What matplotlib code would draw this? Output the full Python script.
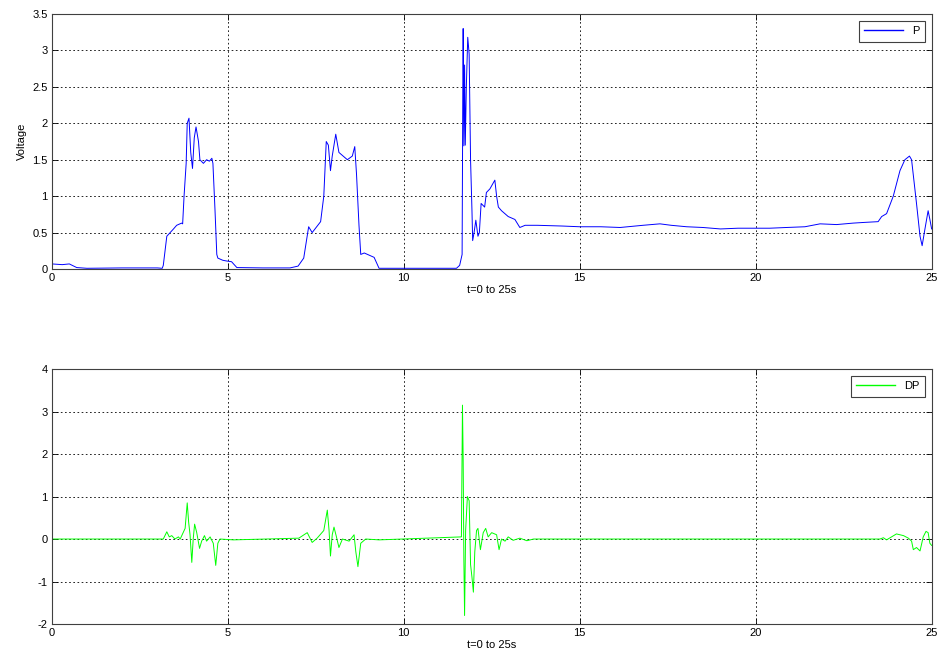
import matplotlib
matplotlib.use("Agg")
import matplotlib.pyplot as plt
import numpy as np

plt.rcParams['font.family'] = ['Liberation Sans', 'DejaVu Sans']
plt.rcParams['font.size'] = 8
plt.rcParams['axes.unicode_minus'] = False

# P signal (voltage)
t_p = [0, 0.3, 0.5, 0.71, 1.0, 2.0, 3.0, 3.14, 3.17, 3.27, 3.46, 3.55, 3.69, 3.72,
       3.76, 3.82, 3.85, 3.9, 3.95, 4.0, 4.05, 4.1, 4.17, 4.21, 4.31, 4.4, 4.48,
       4.55, 4.58, 4.64, 4.69, 4.72, 4.86, 4.97, 5.11, 5.26, 6.0, 6.77, 7.0, 7.16,
       7.3, 7.4, 7.64, 7.73, 7.8, 7.86, 7.92, 7.97, 8.07, 8.16, 8.4, 8.54, 8.61,
       8.66, 8.73, 8.78, 8.88, 9.16, 9.3, 10.0, 11.0, 11.5, 11.59, 11.66, 11.68,
       11.69, 11.71, 11.73, 11.75, 11.78, 11.82, 11.86, 11.9, 11.94, 11.96,
       12.0, 12.05, 12.11, 12.15, 12.2, 12.3, 12.35, 12.45, 12.59, 12.64, 12.69,
       12.78, 12.97, 13.16, 13.3, 13.45, 13.55, 13.8, 14.5, 15.0, 15.6, 16.15,
       16.8, 17.28, 17.6, 18.04, 18.5, 19.0, 19.5, 19.93, 20.4, 20.88, 21.4,
       21.83, 22.3, 22.77, 23.1, 23.48, 23.58, 23.72, 23.91, 24.1, 24.24,
       24.37, 24.43, 24.57, 24.67, 24.73, 24.81, 24.9, 24.95, 25.0]
p_val = [0.07, 0.06, 0.07, 0.02, 0.01, 0.015, 0.015, 0.01, 0.05, 0.45, 0.55, 0.6, 0.63, 0.62,
         1.0, 1.45, 2.0, 2.07, 1.6, 1.38, 1.8, 1.95, 1.75, 1.5, 1.45, 1.5, 1.48,
         1.52, 1.45, 0.8, 0.2, 0.15, 0.12, 0.11, 0.1, 0.02, 0.015, 0.015, 0.04, 0.15,
         0.58, 0.5, 0.65, 1.0, 1.75, 1.7, 1.35, 1.55, 1.85, 1.6, 1.5, 1.55, 1.68,
         1.3, 0.6, 0.2, 0.22, 0.16, 0.01, 0.01, 0.01, 0.01, 0.05, 0.2, 2.5,
         3.3, 1.69, 2.8, 1.7, 2.5, 3.18, 2.95, 1.5, 0.8, 0.39,
         0.5, 0.67, 0.45, 0.5, 0.9, 0.85, 1.05, 1.1, 1.22, 1.0, 0.85,
         0.8, 0.72, 0.68, 0.57, 0.6, 0.6, 0.6, 0.59, 0.58, 0.58, 0.57,
         0.6, 0.62, 0.6, 0.58, 0.57, 0.55, 0.56, 0.56, 0.56, 0.57, 0.58,
         0.62, 0.61, 0.63, 0.64, 0.65, 0.72, 0.76, 1.0, 1.35, 1.5,
         1.55, 1.5, 0.9, 0.45, 0.32, 0.55, 0.8, 0.68, 0.55]

# DP signal (derivative of P)
t_dp = [0, 3.17, 3.27, 3.34, 3.41, 3.5, 3.6, 3.65, 3.79, 3.85, 3.89, 3.93, 3.98,
        4.02, 4.06, 4.12, 4.2, 4.26, 4.34, 4.4, 4.5, 4.59, 4.66, 4.72, 4.78, 5.16,
        7.02, 7.26, 7.4, 7.54, 7.73, 7.83, 7.88, 7.92, 7.97, 8.02, 8.09, 8.16,
        8.26, 8.45, 8.59, 8.64, 8.7, 8.78, 8.92, 9.3, 11.64, 11.67, 11.69, 11.71,
        11.73, 11.76, 11.81, 11.86, 11.9, 11.94, 11.98, 12.02, 12.07, 12.11, 12.18,
        12.26, 12.33, 12.4, 12.5, 12.64, 12.71, 12.78, 12.88, 12.97, 13.11, 13.3,
        13.5, 13.69, 23.53, 23.63, 23.72, 23.86, 24.0, 24.2, 24.34, 24.43, 24.48,
        24.57, 24.67, 24.72, 24.76, 24.84, 24.9, 24.95, 25.0]
dp_val = [0, 0.0, 0.17, 0.05, 0.08, 0.0, 0.05, 0.0, 0.25, 0.85, 0.4, 0.1, -0.55,
          0.0, 0.35, 0.15, -0.22, -0.05, 0.08, -0.05, 0.05, -0.1, -0.62, -0.1, 0.0, -0.02,
          0.02, 0.15, -0.08, 0.02, 0.2, 0.68, 0.2, -0.4, 0.1, 0.28, 0.05, -0.2,
          0.0, -0.05, 0.1, -0.3, -0.65, -0.1, 0.0, -0.02, 0.05, 3.15, 1.9, -0.5,
          -1.8, 0.2, 1.0, 0.9, -0.6, -0.9, -1.25, -0.3, 0.2, 0.25, -0.25,
          0.15, 0.25, 0.05, 0.15, 0.1, -0.25, 0.0, -0.05, 0.05, -0.03, 0.02,
          -0.04, 0.0, 0.0, 0.03, -0.02, 0.05, 0.12, 0.08, 0.02, -0.05, -0.25,
          -0.2, -0.28, -0.1, 0.05, 0.18, 0.15, -0.1, -0.15]

fig = plt.figure(figsize=(9.42, 6.6), dpi=100)
ax1 = fig.add_axes([0.0549, 0.5924, 0.9341, 0.3864])
ax2 = fig.add_axes([0.0549, 0.0545, 0.9341, 0.3864])


def style(ax):
    ax.set_xlim(0, 25)
    ax.set_xticks([0, 5, 10, 15, 20, 25])
    ax.grid(True, color='black', linestyle=(0, (2, 3)), linewidth=0.6)
    ax.tick_params(direction='in', top=True, right=True, length=4, width=0.6,
                   labelsize=8, pad=3)
    for s in ax.spines.values():
        s.set_color('#404040')
        s.set_linewidth(0.8)
    ax.set_xlabel('t=0 to 25s', fontsize=8, labelpad=1)


ax1.plot(t_p, p_val, color='#0000ff', linewidth=0.7, label='P')
ax1.set_ylim(0, 3.5)
ax1.set_yticks(np.arange(0, 3.51, 0.5))
ax1.set_yticklabels(['0', '0.5', '1', '1.5', '2', '2.5', '3', '3.5'])
ax1.set_ylabel('Voltage', fontsize=8, labelpad=4)
style(ax1)

ax2.plot(t_dp, dp_val, color='#00ff00', linewidth=0.7, label='DP')
ax2.set_ylim(-2, 4)
ax2.set_yticks(range(-2, 5))
style(ax2)

for ax in (ax1, ax2):
    leg = ax.legend(loc='upper right', fancybox=False, framealpha=1,
                    edgecolor='#404040', fontsize=8, handlelength=3.5,
                    borderpad=0.5, borderaxespad=0.6)
    leg.get_frame().set_linewidth(0.8)
    for h in leg.get_lines():
        h.set_linewidth(1.0)

fig.savefig('out.png', dpi=100)
